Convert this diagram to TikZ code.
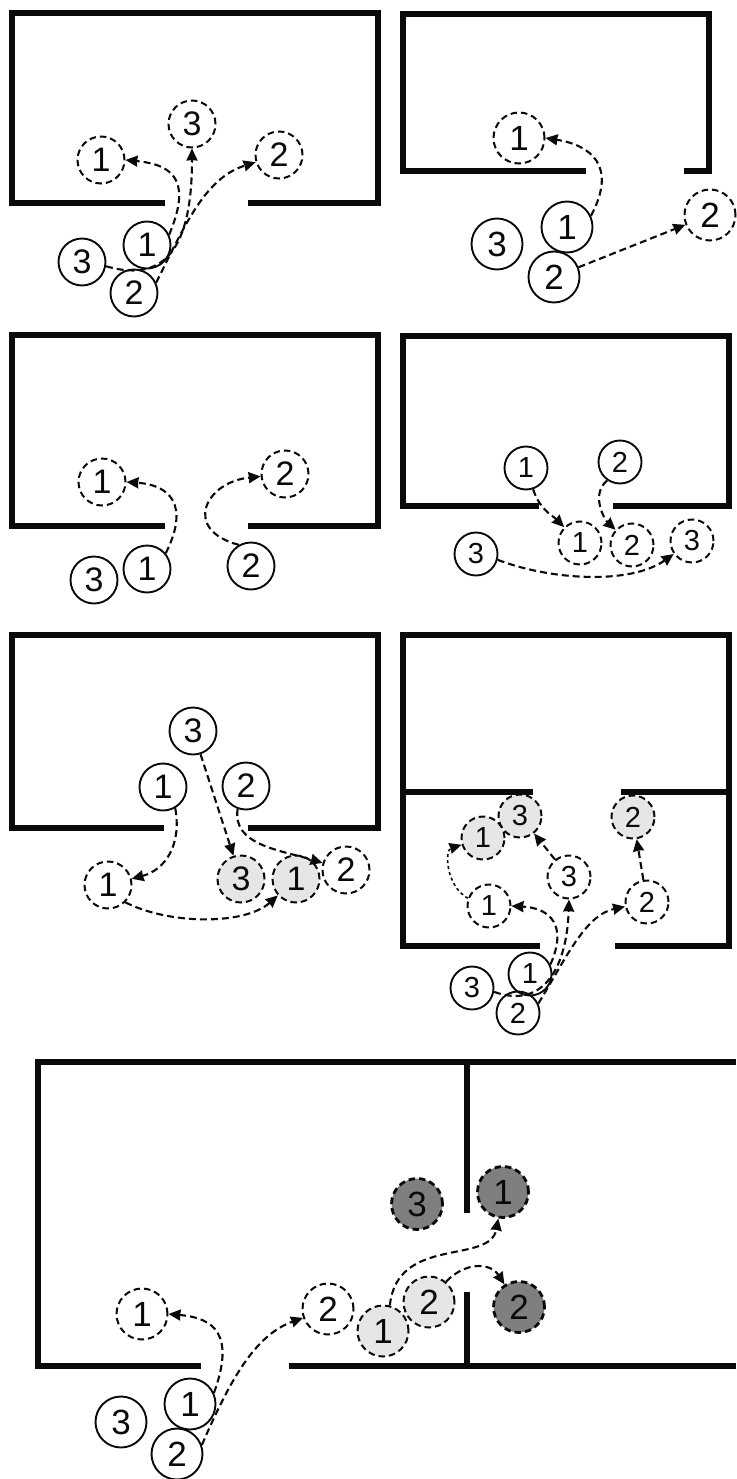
\documentclass[tikz,border=0pt]{standalone}
\usepackage{fontspec}
\setmainfont{Liberation Sans}
\usepackage{xcolor}
\usetikzlibrary{arrows.meta}
\definecolor{roomInk}{HTML}{0A0A0A}
\definecolor{litGrey}{HTML}{E6E6E6}
\definecolor{doneGrey}{HTML}{7F7F7F}
\tikzset{
  wall/.style={draw=roomInk, line width=6.5pt, line cap=butt, line join=miter},
  person/.style={circle, draw=roomInk, line width=1.9pt, inner sep=0pt, text=roomInk},
  walker/.style={person},
  goal/.style={person, dash pattern=on 6.5pt off 4pt, line width=2pt},
  lit/.style={goal, fill=litGrey},
  done/.style={goal, fill=doneGrey, line width=2.8pt},
  walk/.style={-{Stealth[length=12pt,width=11pt,inset=0.5pt]}, draw=roomInk, line width=2.1pt, dash pattern=on 7pt off 4pt},
  sizeM/.style={every node/.append style={minimum size=47pt, font=\fontsize{34}{34}\selectfont}},
  sizeS/.style={every node/.append style={minimum size=43pt, font=\fontsize{29}{29}\selectfont}},
  sizeL/.style={every node/.append style={minimum size=51pt, font=\fontsize{35}{35}\selectfont}},
}
\begin{document}
\begin{tikzpicture}[x=1pt, y=-1pt]
    \useasboundingbox (0,0) rectangle (736,1479);
    \begin{scope}[sizeM]
    \draw[wall] (165,203) -- (12,203) -- (12,13) -- (378,13) -- (378,203) -- (248,203);
    \node[walker] (a1) at (147,245) {1};
    \node[walker] (a3) at (82,262) {3};
    \node[walker] (a2) at (134,293) {2};
    \node[goal] (a1t) at (101,160) {1};
    \node[goal] (a3t) at (192,124) {3};
    \node[goal] (a2t) at (279,155) {2};
    \draw[walk] (a1.25) .. controls (190,185) and (178,165) .. (a1t.east);
    \draw[walk] (a3.-10) .. controls (170,285) and (192,240) .. (a3t.south);
    \draw[walk] (a2.25) .. controls (185,225) and (205,178) .. (a2t);
    \end{scope}
    \begin{scope}[sizeL]
    \draw[wall] (586,171) -- (403,171) -- (403,14) -- (709,14) -- (709,171) -- (684,171);
    \node[walker] (b1) at (567,227) {1};
    \node[walker] (b3) at (497,244) {3};
    \node[walker] (b2) at (554,277) {2};
    \node[goal] (b1t) at (519,138) {1};
    \node[goal] (b2t) at (710,215) {2};
    \draw[walk] (b1.25) .. controls (618,165) and (590,145) .. (b1t.east);
    \draw[walk] (b2) -- (b2t);
    \end{scope}
    \begin{scope}[sizeM]
    \draw[wall] (165,526) -- (12,526) -- (12,335) -- (378,335) -- (378,526) -- (248,526);
    \node[walker] (c3) at (94,580) {3};
    \node[walker] (c1) at (147,569) {1};
    \node[walker] (c2) at (251,566) {2};
    \node[goal] (c1t) at (102,482) {1};
    \node[goal] (c2t) at (285,474) {2};
    \draw[walk] (c1.40) .. controls (190,505) and (170,485) .. (c1t.east);
    \draw[walk] (c2.120) .. controls (182,530) and (205,482) .. (c2t);
    \end{scope}
    \begin{scope}[sizeS]
    \draw[wall] (539,506) -- (403,506) -- (403,336) -- (729,336) -- (729,506) -- (613,506);
    \node[walker] (d1) at (526,468) {1};
    \node[walker] (d2) at (620,462) {2};
    \node[walker] (d3) at (476,554) {3};
    \node[goal] (d1t) at (580,543) {1};
    \node[goal] (d2t) at (632,545) {2};
    \node[goal] (d3t) at (692,541) {3};
    \draw[walk] (d1) .. controls (540,510) and (552,515) .. (d1t);
    \draw[walk] (d2.-125) .. controls (590,495) and (605,520) .. (d2t);
    \draw[walk] (d3.-15) .. controls (550,580) and (630,585) .. (d3t);
    \end{scope}
    \begin{scope}[sizeM]
    \draw[wall] (164,828) -- (12,828) -- (12,635) -- (378,635) -- (378,828) -- (248,828);
    \node[walker] (e3) at (193,731) {3};
    \node[walker] (e1) at (163,787) {1};
    \node[walker] (e2) at (246,786) {2};
    \node[goal] (e1t) at (108,885) {1};
    \node[lit] (e3l) at (241,879) {3};
    \node[lit] (e1l) at (296,879) {1};
    \node[goal] (e2t) at (346,870) {2};
    \draw[walk] (e3) -- (e3l);
    \draw[walk] (e1.-60) .. controls (182,845) and (165,870) .. (e1t);
    \draw[walk] (e2.-110) .. controls (232,845) and (280,850) .. (e2t);
    \draw[walk] (e1t.-45) .. controls (170,925) and (245,925) .. (e1l);
    \end{scope}
    \begin{scope}[sizeS]
    \draw[wall] (533,792) -- (403,792) -- (403,635) -- (729,635) -- (729,792) -- (621,792);
    \draw[wall, line width=5.5pt] (540,946) -- (403,946) -- (403,790);
    \draw[wall, line width=5.5pt] (729,790) -- (729,946) -- (615,946);
    \node[lit] (f3l) at (520,816) {3};
    \node[lit] (f1l) at (483,838) {1};
    \node[lit] (f2l) at (633,817) {2};
    \node[goal] (f3t) at (569,877) {3};
    \node[goal] (f1t) at (489,906) {1};
    \node[goal] (f2t) at (647,902) {2};
    \node[walker] (f1) at (530,974) {1};
    \node[walker] (f3) at (472,988) {3};
    \node[walker] (f2) at (518,1013) {2};
    \draw[walk] (f3.-10) .. controls (545,1010) and (567,965) .. (f3t.south);
    \draw[walk] (f1.25) .. controls (568,925) and (550,908) .. (f1t.east);
    \draw[walk] (f2.25) .. controls (565,960) and (585,915) .. (f2t);
    \draw[walk] (f3t) -- (f3l);
    \draw[walk] (f2t) -- (f2l);
    \draw[walk, line width=1.6pt, dash pattern=on 3pt off 3pt] (f1t.160) .. controls (445,885) and (445,850) .. (f1l);
    \end{scope}
    \begin{scope}[sizeL]
    \draw[wall] (201,1366) -- (38,1366) -- (38,1062) -- (736,1062);
    \draw[wall] (736,1366) -- (289,1366);
    \draw[wall] (467,1062) -- (467,1213);
    \draw[wall] (467,1292) -- (467,1366);
    \node[done] (g3d) at (417,1204) {3};
    \node[done] (g1d) at (503,1192) {1};
    \node[done] (g2d) at (519,1307) {2};
    \node[lit] (g2l) at (429,1302) {2};
    \node[lit] (g1l) at (383,1331) {1};
    \node[goal] (g2t) at (328,1309) {2};
    \node[goal] (g1t) at (142,1314) {1};
    \node[walker] (g1) at (190,1404) {1};
    \node[walker] (g3) at (121,1422) {3};
    \node[walker] (g2) at (177,1454) {2};
    \draw[walk] (g1.25) .. controls (235,1335) and (215,1318) .. (g1t.east);
    \draw[walk] (g2.20) .. controls (230,1380) and (255,1335) .. (g2t);
    \draw[walk] (g1l.75) .. controls (397,1235) and (490,1265) .. (g1d);
    \draw[walk] (g2l.50) .. controls (465,1262) and (490,1262) .. (g2d);
    \end{scope}
  \end{tikzpicture}
\end{document}
